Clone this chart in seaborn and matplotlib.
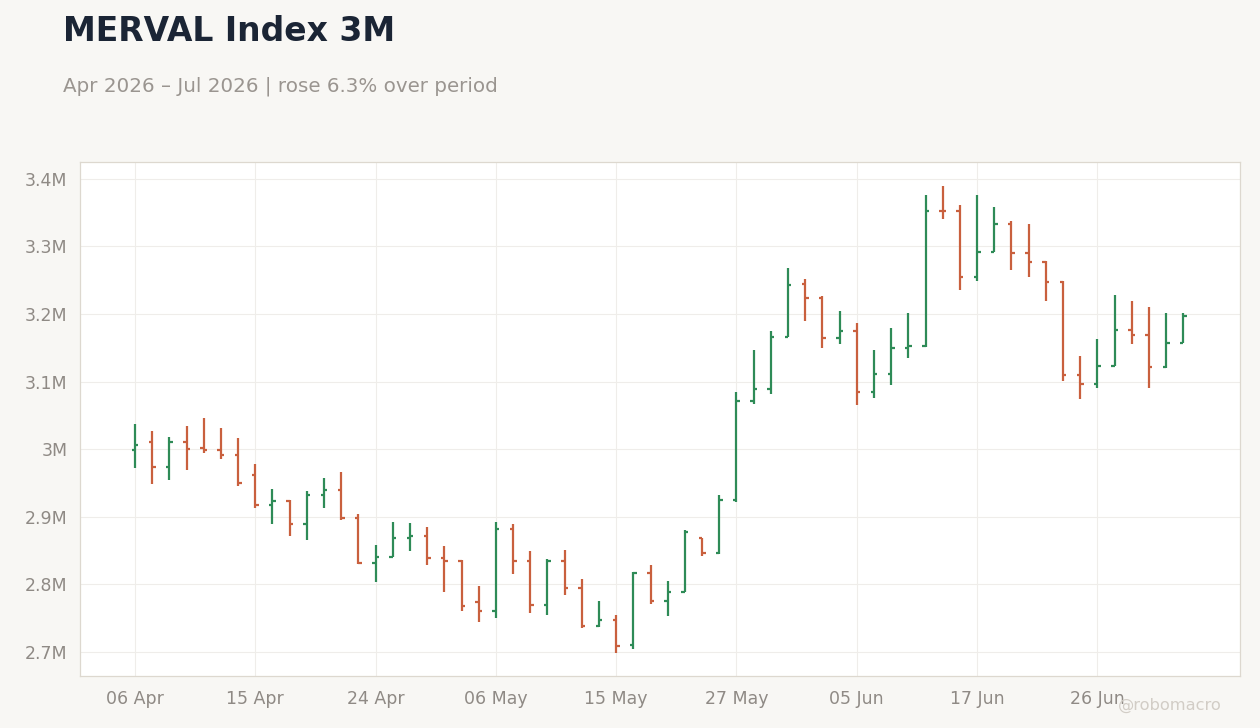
import numpy as np
import pandas as pd
import matplotlib
matplotlib.use("Agg")
import matplotlib.pyplot as plt
from matplotlib.ticker import FuncFormatter
import seaborn as sns

# --- data (values in millions) ---
opens = [2.9994, 3.011, 2.973, 3.011, 3.002, 2.9994, 2.992, 2.962, 2.918, 2.924,
         2.890, 2.933, 2.940, 2.898, 2.832, 2.841, 2.868, 2.871, 2.8395, 2.834,
         2.774, 2.760, 2.882, 2.835, 2.770, 2.834, 2.794, 2.739, 2.748, 2.711,
         2.817, 2.776, 2.789, 2.868, 2.847, 2.925, 3.072, 3.0896, 3.1666, 3.2446,
         3.224, 3.165, 3.1755, 3.085, 3.112, 3.150, 3.153, 3.353, 3.353, 3.2554,
         3.2924, 3.3338, 3.291, 3.2776, 3.248, 3.1104, 3.097, 3.1237, 3.177, 3.1696,
         3.122, 3.1577]
highs = [3.0374, 3.027, 3.018, 3.034, 3.046, 3.0315, 3.017, 2.978, 2.941, 2.925,
         2.938, 2.9575, 2.966, 2.904, 2.858, 2.892, 2.891, 2.885, 2.857, 2.836,
         2.798, 2.892, 2.889, 2.849, 2.837, 2.851, 2.808, 2.776, 2.755, 2.818,
         2.829, 2.805, 2.8805, 2.868, 2.933, 3.084, 3.147, 3.175, 3.268, 3.252,
         3.226, 3.2046, 3.187, 3.147, 3.1795, 3.202, 3.376, 3.3896, 3.3615, 3.376,
         3.3586, 3.3378, 3.3334, 3.278, 3.249, 3.138, 3.163, 3.2283, 3.2194, 3.2106,
         3.202, 3.202]
lows = [2.9727, 2.949, 2.955, 2.970, 2.995, 2.986, 2.946, 2.9135, 2.890, 2.871,
        2.866, 2.9135, 2.896, 2.8306, 2.804, 2.840, 2.850, 2.828, 2.789, 2.761,
        2.745, 2.751, 2.816, 2.758, 2.755, 2.785, 2.736, 2.7375, 2.699, 2.705,
        2.771, 2.754, 2.789, 2.8425, 2.845, 2.9215, 3.067, 3.082, 3.166, 3.190,
        3.150, 3.156, 3.066, 3.0763, 3.0956, 3.1355, 3.1518, 3.341, 3.236, 3.2495,
        3.2915, 3.2658, 3.2554, 3.220, 3.1015, 3.075, 3.091, 3.1237, 3.156, 3.091,
        3.1207, 3.1577]
closes = [3.0068, 2.973, 3.011, 3.001, 2.999, 2.992, 2.9505, 2.918, 2.924, 2.890,
          2.933, 2.940, 2.898, 2.832, 2.841, 2.868, 2.871, 2.8395, 2.834, 2.7685,
          2.760, 2.882, 2.835, 2.770, 2.834, 2.794, 2.739, 2.748, 2.709, 2.817,
          2.776, 2.789, 2.878, 2.847, 2.925, 3.072, 3.0896, 3.1666, 3.2436, 3.224,
          3.165, 3.1755, 3.085, 3.112, 3.150, 3.153, 3.353, 3.352, 3.2554, 3.2924,
          3.3338, 3.291, 3.2776, 3.248, 3.1104, 3.097, 3.1237, 3.177, 3.1696, 3.122,
          3.1577, 3.1977]
tick_labels = ["06 Apr", "15 Apr", "24 Apr", "06 May", "15 May",
               "27 May", "05 Jun", "17 Jun", "26 Jun"]

df = pd.DataFrame({"open": opens, "high": highs, "low": lows, "close": closes})
df["x"] = np.arange(len(df))
df["up"] = df["close"] >= df["open"]

GREEN = "#2E8B57"
RED = "#C9603E"
BG = "#F8F7F4"
GRID = "#EFEDEA"
TXT = "#8F8A85"

sns.set_theme(style="whitegrid")
plt.rcParams["font.family"] = ["DejaVu Sans"]

fig = plt.figure(figsize=(12.6, 7.28), dpi=100, facecolor=BG)
ax = fig.add_axes([80 / 1260, 1 - 676 / 728, 1160 / 1260, 514 / 728])
ax.set_facecolor("white")

colors = np.where(df["up"], GREEN, RED)
ax.vlines(df["x"], df["low"], df["high"], colors=colors, linewidth=1.6, zorder=3)
tw = 0.2
ax.hlines(df["open"], df["x"] - tw, df["x"], colors=colors, linewidth=1.6, zorder=3)
ax.hlines(df["close"], df["x"], df["x"] + tw, colors=colors, linewidth=1.6, zorder=3)

ax.set_xlim(-3.2, 64.3)
ax.set_ylim(2.6645, 3.425)
ax.set_xticks(np.arange(0, 7 * len(tick_labels), 7))
ax.set_xticklabels(tick_labels)
ax.set_yticks([2.7, 2.8, 2.9, 3.0, 3.1, 3.2, 3.3, 3.4])
ax.yaxis.set_major_formatter(FuncFormatter(lambda v, p: f"{round(v, 1):g}M"))
ax.grid(True, color=GRID, linewidth=0.8)
ax.tick_params(axis="both", colors=TXT, labelsize=12.5, length=4, width=0.8, pad=5)
ax.tick_params(axis="x", pad=6)
for s in ax.spines.values():
    s.set_color("#DDD8CF")
    s.set_linewidth(0.9)
ax.set_xlabel("")
ax.set_ylabel("")

fig.text(63 / 1260, 1 - 41 / 728, "MERVAL Index 3M", fontsize=23.8, fontweight="bold",
         color="#1B2535", va="baseline", ha="left")
fig.text(63 / 1260, 1 - 92 / 728, "Apr 2026 \u2013 Jul 2026 | rose 6.3% over period",
         fontsize=14.3, color="#9A9590", va="baseline", ha="left")
fig.text(1222 / 1260, 1 - 710 / 728, "@robomacro", fontsize=11.7, color="#D2CDC6",
         va="baseline", ha="right")

fig.savefig("out.png", dpi=100, facecolor=BG)
